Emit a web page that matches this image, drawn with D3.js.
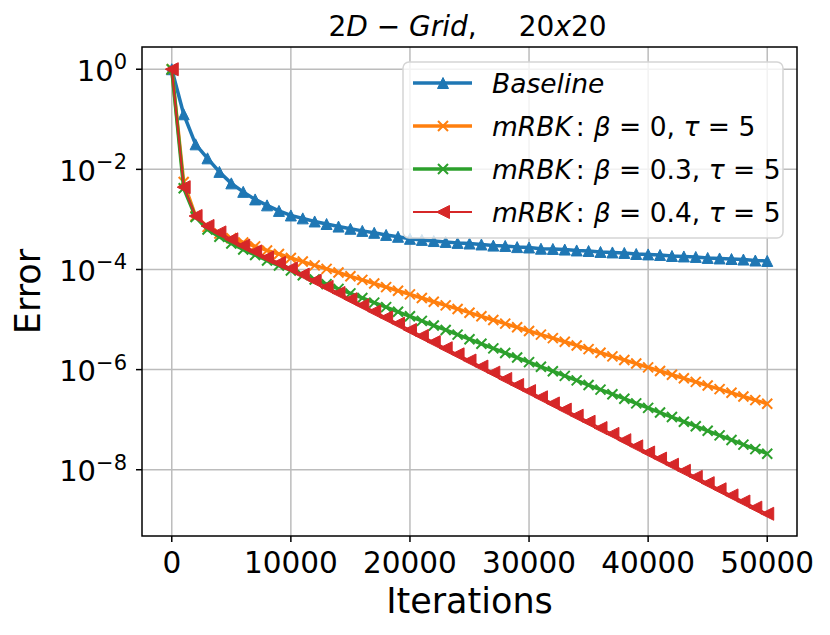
<!DOCTYPE html>
<html>
<head>
<meta charset="utf-8">
<script src="https://cdn.jsdelivr.net/npm/d3@7"></script>
<style>
body{margin:0;background:#fff;}
text{font-family:"DejaVu Sans",sans-serif;}
</style>
</head>
<body>
<div id="chart"></div>
<script>
// iterations (x) and error values
const iters=[0,1000,2000,3000,4000,5000,6000,7000,8000,9000,10000,11000,12000,13000,14000,15000,16000,17000,18000,19000,20000,
  21000,22000,23000,24000,25000,26000,27000,28000,29000,30000,31000,32000,33000,34000,35000,36000,37000,38000,39000,40000,
  41000,42000,43000,44000,45000,46000,47000,48000,49000,50000];
const baseline=[1,0.126,0.0316,0.0166,8.9e-3,5.25e-3,3.55e-3,2.51e-3,1.91e-3,1.48e-3,1.2e-3,
  1.05e-3,9.1e-4,8.1e-4,7.2e-4,6.5e-4,5.9e-4,5.4e-4,4.9e-4,4.5e-4,4.1e-4,
  3.9e-4,3.7e-4,3.55e-4,3.4e-4,3.3e-4,3.16e-4,3.0e-4,2.95e-4,2.8e-4,2.75e-4,
  2.6e-4,2.57e-4,2.5e-4,2.4e-4,2.34e-4,2.24e-4,2.19e-4,2.14e-4,2.04e-4,2.0e-4,
  1.95e-4,1.86e-4,1.82e-4,1.78e-4,1.7e-4,1.66e-4,1.62e-4,1.58e-4,1.51e-4,1.48e-4];
const beta0=[1,5.6e-3,1.17e-3,7.1e-4,5.25e-4,4.2e-4,3.47e-4,2.9e-4,2.4e-4,2.04e-4,1.7e-4,
  1.44e-4,1.21e-4,1.03e-4,8.7e-5,7.3e-5,6.2e-5,5.25e-5,4.44e-5,3.76e-5,3.18e-5,
  2.69e-5,2.27e-5,1.92e-5,1.63e-5,1.37e-5,1.16e-5,9.8e-6,8.3e-6,7.0e-6,5.9e-6,
  5.0e-6,4.25e-6,3.6e-6,3.04e-6,2.57e-6,2.17e-6,1.84e-6,1.56e-6,1.32e-6,1.11e-6,
  9.4e-7,7.9e-7,6.7e-7,5.7e-7,4.8e-7,4.07e-7,3.44e-7,2.91e-7,2.46e-7,2.08e-7];
const beta03=[1,4.2e-3,1.12e-3,6.3e-4,4.5e-4,3.3e-4,2.5e-4,1.95e-4,1.51e-4,1.2e-4,9.55e-5,
  7.7e-5,6.3e-5,5.1e-5,4.1e-5,3.33e-5,2.7e-5,2.18e-5,1.77e-5,1.43e-5,1.16e-5,
  9.4e-6,7.6e-6,6.2e-6,5.0e-6,4.05e-6,3.28e-6,2.66e-6,2.15e-6,1.74e-6,1.41e-6,
  1.14e-6,9.3e-7,7.5e-7,6.1e-7,4.92e-7,3.99e-7,3.23e-7,2.62e-7,2.12e-7,1.72e-7,
  1.39e-7,1.13e-7,9.1e-8,7.4e-8,6.0e-8,4.85e-8,3.93e-8,3.18e-8,2.58e-8,2.09e-8];
const beta04=[1,4.4e-3,1.17e-3,7.4e-4,5.5e-4,4.0e-4,3.0e-4,2.3e-4,1.74e-4,1.35e-4,1.05e-4,
  7.9e-5,5.96e-5,4.49e-5,3.39e-5,2.55e-5,1.93e-5,1.45e-5,1.1e-5,8.3e-6,6.2e-6,
  4.7e-6,3.55e-6,2.67e-6,2.02e-6,1.52e-6,1.15e-6,8.7e-7,6.5e-7,4.92e-7,3.72e-7,
  2.8e-7,2.11e-7,1.59e-7,1.2e-7,9.1e-8,6.8e-8,5.2e-8,3.89e-8,2.93e-8,2.21e-8,
  1.67e-8,1.26e-8,9.5e-9,7.2e-9,5.4e-9,4.07e-9,3.07e-9,2.32e-9,1.75e-9,1.32e-9];
const xTicks=[0,10000,20000,30000,40000,50000];
const yTickExp=[0,-2,-4,-6,-8];

const W=830,H=635;
const m={l:142,r:797,t:47,b:536};
const svg=d3.select("#chart").append("svg").attr("width",W).attr("height",H);

const x=d3.scaleLinear().domain([-2500,52500]).range([m.l,m.r]);
const all=baseline.concat(beta0,beta03,beta04);
const lmin=Math.log10(d3.min(all)),lmax=Math.log10(d3.max(all));
const pad=(lmax-lmin)*0.05;
const y=d3.scaleLog().domain([Math.pow(10,lmin-pad),Math.pow(10,lmax+pad)]).range([m.b,m.t]);

// grid
const g=svg.append("g");
g.selectAll(".gx").data(xTicks).enter().append("line")
  .attr("x1",d=>x(d)).attr("x2",d=>x(d)).attr("y1",m.t).attr("y2",m.b)
  .attr("stroke","#bcbcbc").attr("stroke-width",1.5);
g.selectAll(".gy").data(yTickExp).enter().append("line")
  .attr("y1",d=>y(Math.pow(10,d))).attr("y2",d=>y(Math.pow(10,d))).attr("x1",m.l).attr("x2",m.r)
  .attr("stroke","#bcbcbc").attr("stroke-width",1.5);

// series
function mk(type,s){
  const h=s/2;
  if(type=="up") return `M0,${-h}L${h},${h}L${-h},${h}Z`;
  if(type=="left") return `M${-h},0L${h},${-h}L${h},${h}Z`;
  return `M${-h},${-h}L${h},${h}M${-h},${h}L${h},${-h}`;
}
const series=[
  {vals:baseline,color:"#1f77b4",lw:3.5,marker:"up",ms:11},
  {vals:beta0,color:"#ff7f0e",lw:3.5,marker:"x",ms:10},
  {vals:beta03,color:"#2ca02c",lw:3.5,marker:"x",ms:10},
  {vals:beta04,color:"#d62728",lw:2,marker:"left",ms:13}
];
const line=d3.line().x((d,i)=>x(iters[i])).y(d=>y(d));
series.forEach(s=>{
  svg.append("path").datum(s.vals).attr("d",line).attr("fill","none")
    .attr("stroke",s.color).attr("stroke-width",s.lw).attr("stroke-linejoin","round");
  svg.append("g").selectAll("path").data(s.vals).enter().append("path")
    .attr("transform",(d,i)=>`translate(${x(iters[i])},${y(d)})`)
    .attr("d",mk(s.marker,s.ms))
    .attr("fill",s.marker=="x"?"none":s.color)
    .attr("stroke",s.color).attr("stroke-width",s.marker=="x"?2:1);
});

// axes frame
svg.append("rect").attr("x",m.l).attr("y",m.t).attr("width",m.r-m.l).attr("height",m.b-m.t)
  .attr("fill","none").attr("stroke","#000").attr("stroke-width",1.5);

// x ticks
svg.selectAll(".xt").data(xTicks).enter().append("line")
  .attr("x1",d=>x(d)).attr("x2",d=>x(d)).attr("y1",m.b).attr("y2",m.b+6)
  .attr("stroke","#000").attr("stroke-width",1.5);
svg.selectAll(".xl").data(xTicks).enter().append("text")
  .attr("x",d=>x(d)).attr("y",m.b+37).attr("text-anchor","middle")
  .attr("font-size",29.5).text(d=>d);

// y ticks
svg.selectAll(".yt").data(yTickExp).enter().append("line")
  .attr("x1",m.l-6).attr("x2",m.l).attr("y1",d=>y(Math.pow(10,d))).attr("y2",d=>y(Math.pow(10,d)))
  .attr("stroke","#000").attr("stroke-width",1.5);
const yl=svg.selectAll(".yl").data(yTickExp).enter().append("text")
  .attr("x",m.l-15).attr("y",d=>y(Math.pow(10,d))+11.5).attr("text-anchor","end").attr("font-size",29);
yl.append("tspan").text("10");
yl.append("tspan").attr("font-size",21).attr("dy",-11.5).text(d=>d==0?"0":"\u2212"+(-d));

// labels
svg.append("text").attr("x",(m.l+m.r)/2).attr("y",613).attr("text-anchor","middle")
  .attr("font-size",35).text("Iterations");
svg.append("text").attr("transform",`translate(40,${(m.t+m.b)/2}) rotate(-90)`)
  .attr("text-anchor","middle").attr("font-size",35).text("Error");

function rich(sel,parts){
  parts.forEach(p=>{
    const t=sel.append("tspan").attr("font-style",p[1]?"italic":"normal").text(p[0]);
    if(p[2]) t.attr("dx",p[2]);
  });
}
const title=svg.append("text").attr("x",(m.l+m.r)/2-2).attr("y",36).attr("text-anchor","middle")
  .attr("font-size",28).attr("xml:space","preserve");
rich(title,[["2",0],["D",1],[" \u2212 ",0],["Grid",1],[",",0],["20",0,42],["x",1],["20",0]]);

// legend
const leg=svg.append("g");
leg.append("rect").attr("x",403).attr("y",62).attr("width",380).attr("height",176).attr("rx",6)
  .attr("fill","#fff").attr("fill-opacity",0.8).attr("stroke","#d5d5d5").attr("stroke-width",1.5);
const labels=[
  [["Baseline",1]],
  [["mRBK",1],[":",0,4],["\u03b2",1,9],[" = 0, ",0],["\u03c4",1],[" = 5",0]],
  [["mRBK",1],[":",0,4],["\u03b2",1,9],[" = 0.3, ",0],["\u03c4",1],[" = 5",0]],
  [["mRBK",1],[":",0,4],["\u03b2",1,9],[" = 0.4, ",0],["\u03c4",1],[" = 5",0]]
];
series.forEach((s,i)=>{
  const cy=83+i*43;
  leg.append("line").attr("x1",413).attr("x2",472).attr("y1",cy).attr("y2",cy)
    .attr("stroke",s.color).attr("stroke-width",s.lw);
  leg.append("path").attr("transform",`translate(443,${cy})`).attr("d",mk(s.marker,s.ms))
    .attr("fill",s.marker=="x"?"none":s.color).attr("stroke",s.color).attr("stroke-width",s.marker=="x"?2:1);
  const t=leg.append("text").attr("x",492).attr("y",cy+9.5).attr("font-size",26.5).attr("xml:space","preserve");
  rich(t,labels[i]);
});
</script>
</body>
</html>
